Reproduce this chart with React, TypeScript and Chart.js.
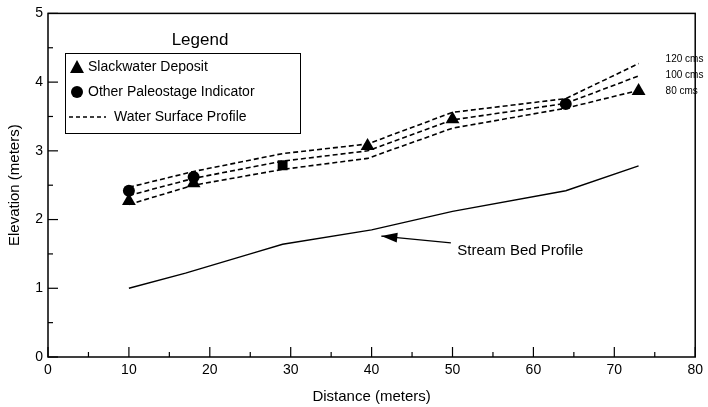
import React, { useEffect, useRef } from "react";
import { Chart, registerables } from "chart.js";
Chart.register(...registerables);

// Water surface profiles (dashed), three discharges
const profileX = [10, 18, 29, 39.5, 50, 64, 73];
const wsp80 = [2.22, 2.5, 2.73, 2.89, 3.33, 3.62, 3.88];
const wsp100 = [2.35, 2.6, 2.85, 3.0, 3.45, 3.69, 4.09];
const wsp120 = [2.47, 2.7, 2.96, 3.1, 3.56, 3.76, 4.27];
const profileLabels = ["80 cms", "100 cms", "120 cms"];

// Stream bed profile (solid)
const bedX = [10, 17, 25, 29, 40, 50, 64, 73];
const bedY = [1.0, 1.22, 1.5, 1.64, 1.85, 2.12, 2.42, 2.78];

// Markers
const slackX = [10, 18, 39.5, 50, 73];
const slackY = [2.27, 2.53, 3.07, 3.46, 3.87];
const otherX = [10, 18, 29, 64];
const otherY = [2.42, 2.62, 2.79, 3.68];
const otherStyle = ["circle", "circle", "rect", "circle"];

const xTicks = [0, 10, 20, 30, 40, 50, 60, 70, 80];
const yTicks = [0, 1, 2, 3, 4, 5];

const FONT = "'Liberation Sans', Arial, Helvetica, sans-serif";

const pts = (xs: number[], ys: number[]) => xs.map((x, i) => ({ x, y: ys[i] }));

const decorPlugin = {
  id: "decor",
  afterDraw(chart: any) {
    const { ctx, chartArea, scales } = chart;
    const { left, right, top, bottom } = chartArea;
    const xs = scales.x;
    const ys = scales.y;
    ctx.save();
    ctx.strokeStyle = "#000";
    // frame
    ctx.lineWidth = 1.5;
    ctx.strokeRect(left, top, right - left, bottom - top);
    // x ticks inward
    ctx.lineWidth = 1.2;
    for (let v = 0; v <= 80; v += 5) {
      const px = xs.getPixelForValue(v);
      const len = v % 10 === 0 ? 10 : 5;
      ctx.beginPath();
      ctx.moveTo(px, bottom);
      ctx.lineTo(px, bottom - len);
      ctx.stroke();
    }
    for (let v = 0; v <= 5; v += 0.5) {
      const py = ys.getPixelForValue(v);
      const len = Math.abs(v - Math.round(v)) < 0.01 ? 10 : 5;
      ctx.beginPath();
      ctx.moveTo(left, py);
      ctx.lineTo(left + len, py);
      ctx.stroke();
    }

    // Legend
    ctx.fillStyle = "#000";
    ctx.font = `17px ${FONT}`;
    ctx.textAlign = "center";
    ctx.textBaseline = "middle";
    ctx.fillText("Legend", 200, 40);
    ctx.lineWidth = 1;
    ctx.strokeRect(65.5, 53.5, 235, 80);
    ctx.font = `14px ${FONT}`;
    ctx.textAlign = "left";
    // triangle
    ctx.beginPath();
    ctx.moveTo(77, 60);
    ctx.lineTo(84, 73);
    ctx.lineTo(70, 73);
    ctx.closePath();
    ctx.fill();
    ctx.fillText("Slackwater Deposit", 88, 67);
    ctx.beginPath();
    ctx.arc(77, 92, 6, 0, Math.PI * 2);
    ctx.fill();
    ctx.fillText("Other Paleostage Indicator", 88, 92);
    ctx.setLineDash([4, 3]);
    ctx.lineWidth = 1.5;
    ctx.beginPath();
    ctx.moveTo(69, 117);
    ctx.lineTo(106, 117);
    ctx.stroke();
    ctx.setLineDash([]);
    ctx.fillText("Water Surface Profile", 114, 117);

    // discharge labels at line ends
    ctx.font = `10px ${FONT}`;
    const lastX = profileX[profileX.length - 1];
    const ends = [wsp80, wsp100, wsp120];
    const offs = [1, -1, -4];
    ends.forEach((arr, i) => {
      const px = xs.getPixelForValue(lastX) + 27;
      const py = ys.getPixelForValue(arr[arr.length - 1]) + offs[i];
      ctx.fillText(profileLabels[i], px, py);
    });

    // Stream bed label and arrow
    ctx.font = `15px ${FONT}`;
    ctx.fillText("Stream Bed Profile", xs.getPixelForValue(50.6), ys.getPixelForValue(1.55));
    const tipX = xs.getPixelForValue(41.2);
    const tipY = ys.getPixelForValue(1.76);
    const tailX = xs.getPixelForValue(49.8);
    const tailY = ys.getPixelForValue(1.66);
    ctx.lineWidth = 1.2;
    ctx.beginPath();
    ctx.moveTo(tailX, tailY);
    ctx.lineTo(tipX, tipY);
    ctx.stroke();
    const ang = Math.atan2(tipY - tailY, tipX - tailX);
    const L = 16, W = 5;
    const bx = tipX - Math.cos(ang) * L;
    const by = tipY - Math.sin(ang) * L;
    ctx.beginPath();
    ctx.moveTo(tipX, tipY);
    ctx.lineTo(bx - Math.sin(ang) * W, by + Math.cos(ang) * W);
    ctx.lineTo(bx + Math.sin(ang) * W, by - Math.cos(ang) * W);
    ctx.closePath();
    ctx.fill();
    ctx.restore();
  },
};

export default function App() {
  const ref = useRef<HTMLCanvasElement>(null);
  useEffect(() => {
    if (!ref.current) return;
    const dashed = (data: number[]) => ({
      type: "line" as const,
      data: pts(profileX, data),
      borderColor: "#000",
      borderWidth: 1.6,
      borderDash: [5, 3],
      pointRadius: 0,
      tension: 0,
      fill: false,
    });
    const chart = new Chart(ref.current, {
      type: "scatter",
      data: {
        datasets: [
          dashed(wsp80),
          dashed(wsp100),
          dashed(wsp120),
          {
            type: "line",
            data: pts(bedX, bedY),
            borderColor: "#000",
            borderWidth: 1.4,
            pointRadius: 0,
            tension: 0,
            fill: false,
          },
          {
            data: pts(otherX, otherY),
            pointStyle: otherStyle as any,
            pointRadius: [6, 6, 7, 6],
            backgroundColor: "#000",
            borderColor: "#000",
            borderWidth: 0,
          },
          {
            data: pts(slackX, slackY),
            pointStyle: "triangle",
            pointRadius: 8,
            backgroundColor: "#000",
            borderColor: "#000",
            borderWidth: 0,
          },
        ] as any,
      },
      options: {
        responsive: false,
        animation: false,
        devicePixelRatio: 1,
        layout: { padding: { left: 0, right: 9, top: 13, bottom: 0 } },
        plugins: { legend: { display: false }, tooltip: { enabled: false } },
        scales: {
          x: {
            type: "linear",
            min: 0,
            max: 80,
            afterBuildTicks: (s: any) => {
              s.ticks = xTicks.map((v) => ({ value: v }));
            },
            afterFit: (s: any) => {
              s.height = 50;
            },
            grid: { display: false, drawTicks: false },
            border: { display: false },
            ticks: { color: "#000", font: { family: FONT, size: 14 }, padding: 5, maxRotation: 0 },
            title: {
              display: true,
              text: "Distance (meters)",
              color: "#000",
              font: { family: FONT, size: 15 },
              padding: { top: 0, bottom: 1 },
            },
          },
          y: {
            type: "linear",
            min: 0,
            max: 5,
            afterBuildTicks: (s: any) => {
              s.ticks = yTicks.map((v) => ({ value: v }));
            },
            afterFit: (s: any) => {
              s.width = 48;
            },
            grid: { display: false, drawTicks: false },
            border: { display: false },
            ticks: { color: "#000", font: { family: FONT, size: 14 }, padding: 5 },
            title: {
              display: true,
              text: "Elevation (meters)",
              color: "#000",
              font: { family: FONT, size: 15 },
              padding: { top: 6, bottom: 0 },
            },
          },
        },
      },
      plugins: [decorPlugin],
    });
    return () => chart.destroy();
  }, []);
  return (
    <div style={{ position: "fixed", left: 0, top: 0, width: 708, height: 407, background: "#fff" }}>
      <canvas ref={ref} width={708} height={407} style={{ display: "block" }} />
    </div>
  );
}
